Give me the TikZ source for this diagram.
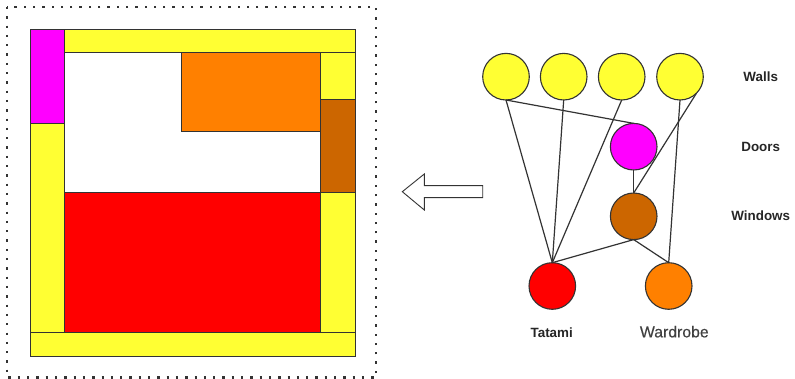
\documentclass[tikz,border=0pt]{standalone}
\usepackage{fontspec}
\setmainfont{Liberation Sans}
\newfontfamily\semibold[FakeBold=0.25]{Liberation Sans}
\definecolor{wallc}{HTML}{FFFF33}
\definecolor{doorc}{HTML}{FF00FF}
\definecolor{winc}{HTML}{CC6600}
\definecolor{wardc}{HTML}{FF8000}
\definecolor{tatc}{HTML}{FF0000}
\definecolor{linec}{HTML}{333333}
\tikzset{
  plan/.style={draw=linec,line width=1pt},
  room/.style={circle,draw=linec,line width=1.1pt,minimum size=46.6pt,inner sep=0pt,outer sep=0pt},
  edge/.style={draw=linec,line width=1.2pt},
  lab/.style={text=black!85,inner sep=0pt,font=\bfseries\fontsize{13.4}{15}\selectfont},
  labreg/.style={text=black!75,inner sep=0pt,font=\semibold\fontsize{15.8}{18}\selectfont}
}
\begin{document}
\begin{tikzpicture}[x=1pt,y=-1pt]
\useasboundingbox (0,0) rectangle (795,379);
\fill[white] (0,0) rectangle (795,379);
% dotted frame
\draw[draw=black!80,line width=2.3pt,dash pattern=on 2.3pt off 7pt] (7,7) rectangle (376,377.5);
% plan
\filldraw[plan,fill=wallc] (30,30) rectangle (355,356);
\filldraw[plan,fill=white] (64.5,53) rectangle (320,193);
\draw[plan] (64.5,53) -- (355,53);
\draw[plan] (64.5,123.5) -- (64.5,332);
\draw[plan] (30,332) -- (355,332);
\draw[plan] (320,53) -- (320,332);
\filldraw[plan,fill=doorc] (30,30) rectangle (64.5,123.5);
\filldraw[plan,fill=winc] (320,100) rectangle (355,193);
\filldraw[plan,fill=wardc] (181,53) rectangle (320,132);
\filldraw[plan,fill=tatc] (64.5,193) rectangle (320,332);
% graph nodes
\node[room,fill=wallc] (w1) at (506,76.7) {};
\node[room,fill=wallc] (w2) at (563.7,76.7) {};
\node[room,fill=wallc] (w3) at (621.7,76.7) {};
\node[room,fill=wallc] (w4) at (680,76.7) {};
\node[room,fill=doorc] (door) at (633.7,146.7) {};
\node[room,fill=winc] (win) at (633.7,216.3) {};
\node[room,fill=tatc] (tat) at (552.3,286) {};
\node[room,fill=wardc] (ward) at (668.7,286) {};
% connectors
\draw[edge] (w1.south) -- (tat.north);
\draw[edge] (w2.south) -- (tat.north);
\draw[edge] (w3.south) -- (tat.north);
\draw[edge] (w1.south) -- (door.north);
\draw[edge] (w4.south) -- (ward.north);
\draw[edge] (w4.south east) -- (win.north);
\draw[edge] (door.south) -- (win.north);
\draw[edge] (win.south) -- (tat.north);
\draw[edge] (win.south) -- (ward.north);
% hollow arrow
\draw[draw=linec,line width=0.9pt,fill=white,line join=miter]
  (402.3,191.7) -- (424.3,174) -- (424.3,185.7) -- (482.7,185.7) -- (482.7,197.7) -- (424.3,197.7) -- (424.3,210) -- cycle;
% labels
\node[lab] (lwalls) at (760.7,76.7) {Walls};
\node[lab] (ldoors) at (760.7,146.7) {Doors};
\node[lab] (lwin) at (760.7,216) {Windows};
\node[lab] (ltat) at (551.7,332.7) {Tatami};
\node[labreg] (lward) at (674.3,331.7) {Wardrobe};
\end{tikzpicture}
\end{document}
